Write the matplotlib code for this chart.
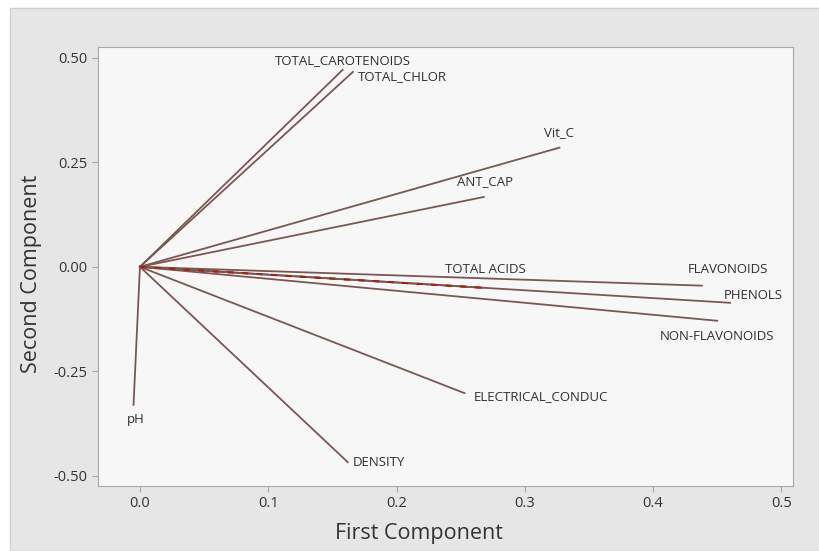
import matplotlib.pyplot as plt
from matplotlib.patches import Rectangle

# loading vectors (first, second component)
variables = ['TOTAL_CAROTENOIDS', 'TOTAL_CHLOR', 'Vit_C', 'ANT_CAP', 'TOTAL ACIDS',
             'FLAVONOIDS', 'PHENOLS', 'NON-FLAVONOIDS', 'ELECTRICAL_CONDUC',
             'DENSITY', 'pH']
pc1 = [0.158, 0.166, 0.327, 0.268, 0.267, 0.438, 0.460, 0.450, 0.253, 0.162, -0.005]
pc2 = [0.471, 0.466, 0.285, 0.167, -0.050, -0.045, -0.086, -0.129, -0.302, -0.467, -0.330]

# label anchor points
lab_x = [0.158, 0.170, 0.327, 0.269, 0.269, 0.458, 0.478, 0.450, 0.260, 0.166, -0.003]
lab_y = [0.493, 0.455, 0.321, 0.203, -0.007, -0.007, -0.069, -0.167, -0.311, -0.469, -0.366]
lab_ha = ['center', 'left', 'center', 'center', 'center', 'center', 'center',
          'center', 'left', 'left', 'center']

plt.rcParams['font.family'] = ['Open Sans', 'DejaVu Sans']

fig = plt.figure(figsize=(8.2, 5.51), dpi=100)
fig.patch.set_facecolor('white')
fig.patches.append(Rectangle((10 / 820, 0), 1, 1 - 8 / 551, transform=fig.transFigure,
                             facecolor='#e6e6e6', edgecolor='#d0d0d0', zorder=-10))

ax = fig.add_axes([0.1195, 0.118, 0.8475, 0.797])
ax.set_facecolor('#f7f7f7')

line_col = '#7a5753'
for i, name in enumerate(variables):
    ax.plot([0, pc1[i]], [0, pc2[i]], color=line_col, lw=1.3, zorder=2)
    if name == 'TOTAL ACIDS':
        ax.plot([0, pc1[i]], [0, pc2[i]], color='#a81e10', lw=1.5,
                dashes=(3, 4), zorder=3)
    ax.text(lab_x[i], lab_y[i], name, ha=lab_ha[i], va='center',
            fontsize=9.5, color='#303030', zorder=4)

ax.set_xlim(-0.0327, 0.509)
ax.set_ylim(-0.524, 0.526)
ax.set_xticks([0.0, 0.1, 0.2, 0.3, 0.4, 0.5])
ax.set_xticklabels(['0.0', '0.1', '0.2', '0.3', '0.4', '0.5'])
ax.set_yticks([-0.50, -0.25, 0.00, 0.25, 0.50])
ax.set_yticklabels(['-0.50', '-0.25', '0.00', '0.25', '0.50'])

for s in ax.spines.values():
    s.set_color('#a8a8a8')
ax.tick_params(colors='#a8a8a8', labelcolor='#333333', labelsize=10.5,
               length=4, direction='out')

ax.set_xlabel('First Component', fontsize=15.5, color='#333333', labelpad=8)
ax.set_ylabel('Second Component', fontsize=15.5, color='#333333', labelpad=8)
ax.xaxis.label.set_x(0.462)
ax.yaxis.label.set_y(0.483)

fig.savefig('out.png', dpi=100)
